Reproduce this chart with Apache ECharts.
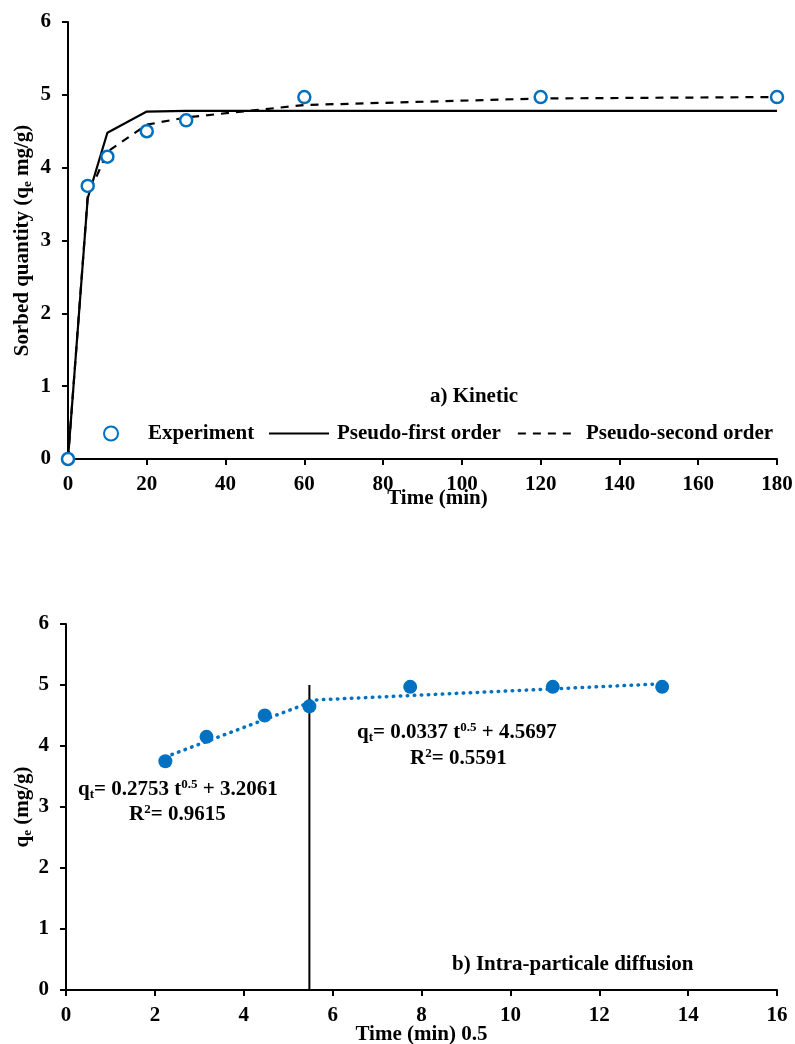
<!DOCTYPE html>
<html><head><meta charset="utf-8">
<script src="https://cdn.jsdelivr.net/npm/echarts@6/dist/echarts.min.js"></script>
<style>html,body{margin:0;padding:0;background:#fff}#c{width:795px;height:1044px}</style>
</head><body><div id="c"></div>
<script>
// ---- data ----
const timeMin = [0, 5, 10, 20, 30, 60, 120, 180];
const qExperiment = [0, 3.75, 4.15, 4.5, 4.65, 4.97, 4.97, 4.97];
const qPseudoFirst = [0, 3.58, 4.48, 4.77, 4.78, 4.78, 4.78, 4.78];
const qPseudoSecond = [0, 3.6, 4.22, 4.59, 4.69, 4.86, 4.95, 4.97];
const sqrtTime = [2.236, 3.162, 4.472, 5.477, 7.746, 10.954, 13.416];
const qIntra = [3.75, 4.15, 4.5, 4.65, 4.97, 4.97, 4.97];
const trend1X = [2.236, 5.477], trend1Y = [3.82, 4.71];
const trend2X = [5.477, 13.416], trend2Y = [4.75, 5.02];
const dividerX = [5.477, 5.477], dividerY = [0, 5.0];

const zip = (a, b) => a.map((v, i) => [v, b[i]]);
const F = 'Liberation Serif, Times New Roman, serif';
const BLUE = '#0070C0';
const FS = 21;
const base = {fontFamily: F, fontWeight: 'bold', color: '#000'};
const axisCommon = {
  nameMoveOverlap: false,
  axisLine: {show: true, onZero: false, lineStyle: {color: '#000', width: 2}},
  axisTick: {show: true, inside: false, length: 6, lineStyle: {color: '#000', width: 2}},
  splitLine: {show: false}
};
const nameRich = {
  a: {fontFamily: F, fontWeight: 'bold', fontSize: FS, color: '#000'},
  s: {fontFamily: F, fontWeight: 'bold', fontSize: 13, color: '#000', padding: [9, 0, 0, 0]}
};
const eqRich = {
  a: {fontFamily: F, fontWeight: 'bold', fontSize: FS, color: '#000', lineHeight: 24},
  sub: {fontFamily: F, fontWeight: 'bold', fontSize: 13, color: '#000', padding: [10, 0, 0, 0]},
  sup: {fontFamily: F, fontWeight: 'bold', fontSize: 13, color: '#000', padding: [0, 0, 10, 0]}
};

const chart = echarts.init(document.getElementById('c'), null, {renderer: 'canvas'});
chart.setOption({
  animation: false,
  backgroundColor: '#fff',
  grid: [
    {left: 68, right: 18, top: 22, height: 437, outerBoundsMode: 'none', containLabel: false},
    {left: 66, right: 18, top: 624, height: 366, outerBoundsMode: 'none', containLabel: false}
  ],
  xAxis: [
    Object.assign({}, axisCommon, {gridIndex: 0, type: 'value', min: 0, max: 180, interval: 20,
      axisLabel: Object.assign({fontSize: FS, margin: 15}, base),
      name: 'Time (min)', nameLocation: 'middle', nameGap: 29,
      nameTextStyle: Object.assign({fontSize: FS, padding: [0, 0, 0, 30]}, base)}),
    Object.assign({}, axisCommon, {gridIndex: 1, type: 'value', min: 0, max: 16, interval: 2,
      axisLabel: Object.assign({fontSize: FS, margin: 15}, base),
      name: 'Time (min) 0.5', nameLocation: 'middle', nameGap: 34,
      nameTextStyle: Object.assign({fontSize: FS}, base)})
  ],
  yAxis: [
    Object.assign({}, axisCommon, {gridIndex: 0, type: 'value', min: 0, max: 6, interval: 1,
      axisLabel: Object.assign({fontSize: FS, margin: 17}, base),
      name: '{a|Sorbed quantity (q}{s|e}{a| mg/g)}', nameLocation: 'middle', nameGap: 34,
      nameTextStyle: {rich: nameRich}}),
    Object.assign({}, axisCommon, {gridIndex: 1, type: 'value', min: 0, max: 6, interval: 1,
      axisLabel: Object.assign({fontSize: FS, margin: 17}, base),
      name: '{a|q}{s|e}{a| (mg/g)}', nameLocation: 'middle', nameGap: 32,
      nameTextStyle: {rich: nameRich}})
  ],
  legend: [
    {data: ['Experiment'], left: 103, top: 423, padding: 0, itemWidth: 14, itemHeight: 14,
      textStyle: Object.assign({fontSize: FS, padding: [0, 0, 0, 25]}, base)},
    {data: ['Pseudo-first order', 'Pseudo-second order'],
      left: 268, top: 423, padding: 0, itemWidth: 60, itemHeight: 14, itemGap: 16,
      itemStyle: {color: 'rgba(0,0,0,0)', borderWidth: 0, opacity: 0},
      textStyle: Object.assign({fontSize: FS, padding: [0, 0, 0, 3]}, base)}
  ],
  series: [
    {name: 'Pseudo-first order', type: 'line', xAxisIndex: 0, yAxisIndex: 0,
      data: zip(timeMin, qPseudoFirst), symbol: 'none', z: 2,
      lineStyle: {color: '#000', width: 2.2, type: 'solid'}, itemStyle: {color: 'rgba(0,0,0,0)'}},
    {name: 'Pseudo-second order', type: 'line', xAxisIndex: 0, yAxisIndex: 0,
      data: zip(timeMin, qPseudoSecond), symbol: 'none', z: 2,
      lineStyle: {color: '#000', width: 2.2, type: [8, 7]}, itemStyle: {color: 'rgba(0,0,0,0)'}},
    {name: 'Experiment', type: 'scatter', xAxisIndex: 0, yAxisIndex: 0,
      data: zip(timeMin, qExperiment), symbol: 'circle', symbolSize: 12, z: 5,
      itemStyle: {color: '#fff', borderColor: BLUE, borderWidth: 2.5, opacity: 1}},
    {name: 'trend1', type: 'line', xAxisIndex: 1, yAxisIndex: 1, data: zip(trend1X, trend1Y),
      symbol: 'none', lineStyle: {color: BLUE, width: 3.5, type: [0.5, 6.5], cap: 'round'}},
    {name: 'trend2', type: 'line', xAxisIndex: 1, yAxisIndex: 1, data: zip(trend2X, trend2Y),
      symbol: 'none', lineStyle: {color: BLUE, width: 3.5, type: [0.5, 6.5], cap: 'round'}},
    {name: 'divider', type: 'line', xAxisIndex: 1, yAxisIndex: 1, data: zip(dividerX, dividerY),
      symbol: 'none', lineStyle: {color: '#000', width: 2}},
    {name: 'Intra', type: 'scatter', xAxisIndex: 1, yAxisIndex: 1, data: zip(sqrtTime, qIntra),
      symbol: 'circle', symbolSize: 14, z: 5, itemStyle: {color: BLUE, opacity: 1}}
  ],
  graphic: [
    {type: 'text', left: 430, top: 386, style: {text: 'a) Kinetic', font: 'bold 21px ' + F, fill: '#000'}},
    {type: 'text', left: 452, top: 954, style: {text: 'b) Intra-particale diffusion', font: 'bold 21px ' + F, fill: '#000'}},
    {type: 'text', left: 78, top: 778, style: {text: '{a|q}{sub|t}{a|= 0.2753 t}{sup|0.5}{a| + 3.2061}', rich: eqRich}},
    {type: 'text', left: 129, top: 803, style: {text: '{a|R}{sup|2}{a|= 0.9615}', rich: eqRich}},
    {type: 'text', left: 357, top: 721, style: {text: '{a|q}{sub|t}{a|= 0.0337 t}{sup|0.5}{a| + 4.5697}', rich: eqRich}},
    {type: 'text', left: 410, top: 747, style: {text: '{a|R}{sup|2}{a|= 0.5591}', rich: eqRich}}
  ]
});
</script></body></html>
